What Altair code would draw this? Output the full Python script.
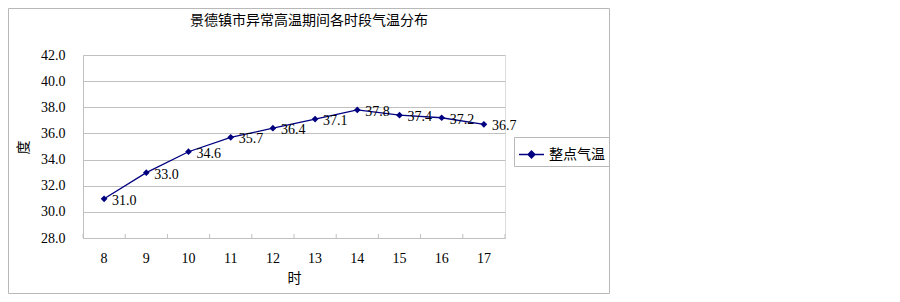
import altair as alt
import pandas as pd

hours = [8, 9, 10, 11, 12, 13, 14, 15, 16, 17]
temps = [31.0, 33.0, 34.6, 35.7, 36.4, 37.1, 37.8, 37.4, 37.2, 36.7]
series_name = "整点气温"
title_text = "景德镇市异常高温期间各时段气温分布"
y_ticks = [28, 30, 32, 34, 36, 38, 40, 42]

df = pd.DataFrame({"hour": hours, "temp": temps, "series": [series_name] * len(hours)})

NAVY = "#000080"
GRID = "#c0c0c0"
SERIF = "Liberation Serif"
CJK = "Noto Sans CJK SC"

x_axis = alt.Axis(
    title="时",
    titleFont=CJK,
    titleFontSize=14,
    titleFontWeight="normal",
    titleColor="black",
    titleX=211,
    titleY=40,
    titleBaseline="middle",
    labelAngle=0,
    labelFont=SERIF,
    labelFontSize=14,
    labelColor="black",
    labelPadding=13,
    labelOverlap=False,
    ticks=False,
    domainColor=GRID,
    grid=False,
)
x_scale = alt.Scale(paddingInner=0, paddingOuter=0)

y_axis = alt.Axis(
    title="度",
    titleFont=CJK,
    titleFontSize=14,
    titleFontWeight="normal",
    titleColor="black",
    titleX=-60,
    titleY=92,
    titleBaseline="middle",
    titleAlign="center",
    values=y_ticks,
    format=".1f",
    labelFont=SERIF,
    labelFontSize=14,
    labelColor="black",
    labelPadding=18,
    labelOverlap=False,
    ticks=False,
    domainColor=GRID,
    gridColor=GRID,
    grid=True,
)
y_scale = alt.Scale(domain=[28, 42], nice=False, zero=False)


def X(**kw):
    return alt.X("hour:O", scale=x_scale, axis=x_axis, **kw)


def Y():
    return alt.Y("temp:Q", scale=y_scale, axis=y_axis)


base = alt.Chart(df)

line = base.mark_line(strokeWidth=1.3).encode(
    x=X(),
    y=Y(),
    color=alt.Color(
        "series:N",
        scale=alt.Scale(range=[NAVY]),
        legend=alt.Legend(
            title=None,
            orient="none",
            legendX=431,
            legendY=82,
            symbolType="M-1,0L1,0M0,-0.28L0.28,0L0,0.28L-0.28,0Z",
            symbolSize=625,
            symbolFillColor=NAVY,
            symbolStrokeColor=NAVY,
            symbolStrokeWidth=1.3,
            labelFont=CJK,
            labelFontSize=14,
            labelColor="black",
            labelOffset=4,
            padding=4,
            strokeColor="#b8b8b8",
            fillColor="white",
        ),
    ),
)

points = base.mark_point(shape="diamond", filled=True, size=45, color=NAVY, opacity=1).encode(
    x=X(), y=Y()
)

labels = base.mark_text(
    align="left", baseline="middle", dx=8, dy=2, font=SERIF, fontSize=14, color="black"
).encode(x=X(), y=Y(), text=alt.Text("temp:Q", format=".1f"))

ticks_start = base.mark_rule(color=GRID, strokeWidth=1).encode(
    x=X(bandPosition=0), y=alt.value(179), y2=alt.value(183)
)
ticks_end = base.transform_filter(alt.datum.hour == hours[-1]).mark_rule(
    color=GRID, strokeWidth=1
).encode(x=X(bandPosition=1), y=alt.value(179), y2=alt.value(183))

title_df = pd.DataFrame({"t": [title_text]})
title = alt.Chart(title_df).mark_text(
    font=CJK, fontSize=14, color="black", align="center", baseline="middle"
).encode(text="t:N", x=alt.value(226), y=alt.value(-34))

frame = alt.Chart(pd.DataFrame({"a": [0]})).mark_rect(
    filled=False, stroke="#b8b8b8", strokeWidth=1
).encode(
    x=alt.value(-74.5), x2=alt.value(526.5), y=alt.value(-46.5), y2=alt.value(238.5)
)

chart = (
    alt.layer(line, points, labels, ticks_start, ticks_end, title, frame)
    .properties(
        width=422,
        height=183,
        autosize=alt.AutoSizeParams(type="none"),
        padding={"left": 75, "top": 47, "right": 387, "bottom": 56},
    )
    .configure_view(stroke=None)
    .configure(background="white")
)

chart.save("out.html", embed_options={"renderer": "svg", "actions": False})
